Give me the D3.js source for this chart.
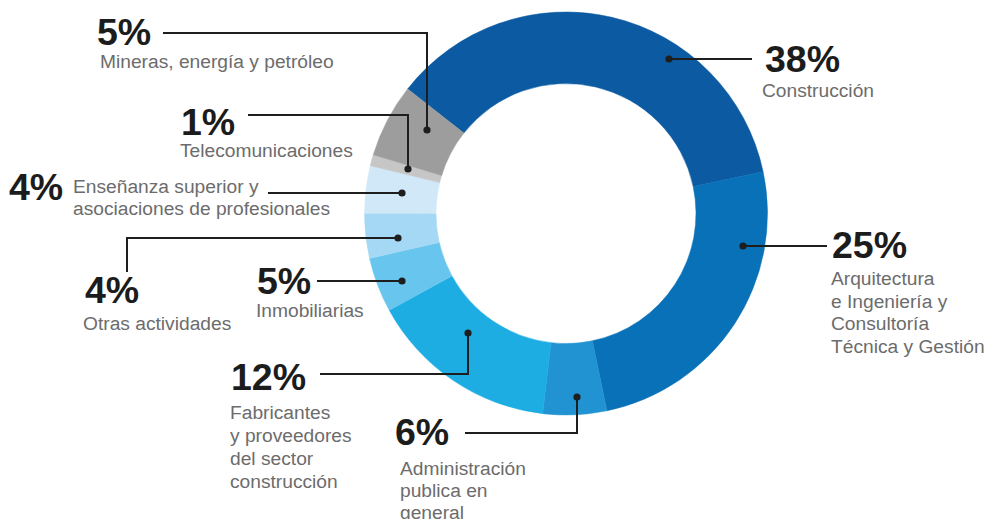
<!DOCTYPE html>
<html><head><meta charset="utf-8">
<script src="https://cdn.jsdelivr.net/npm/d3@7"></script>
<style>body{margin:0;background:#fff}svg{display:block}</style>
</head><body>
<svg id="c" width="989" height="519"></svg>
<script>
// Data (arc shares; printed labels as shown)
const categories = ["Construcción","Arquitectura e Ingeniería y Consultoría Técnica y Gestión","Administración publica en general","Fabricantes y proveedores del sector construcción","Inmobiliarias","Otras actividades","Enseñanza superior y asociaciones de profesionales","Telecomunicaciones","Mineras, energía y petróleo"];
const values = [36.1, 25.1, 5.1, 15.2, 4.4, 3.6, 3.8, 0.9, 5.9];
const pctLabels = ["38%","25%","6%","12%","5%","4%","4%","1%","5%"];
const nameLines = [
  ["Construcción"],
  ["Arquitectura","e Ingeniería y","Consultoría","Técnica y Gestión"],
  ["Administración","publica en","general"],
  ["Fabricantes","y proveedores","del sector","construcción"],
  ["Inmobiliarias"],
  ["Otras actividades"],
  ["Enseñanza superior y","asociaciones de profesionales"],
  ["Telecomunicaciones"],
  ["Mineras, energía y petróleo"]
];
const colors = ["#0b5aa2","#0971b8","#2193d3","#1eade2","#68c6ee","#a5d8f4","#d0e8f8","#c6c6c6","#9d9d9d"];

// Layout of annotations (pixel positions)
const layout = [
  {dot:[669,59], path:[[669,59],[752,59]], pct:[765,72], name:[762,97]},
  {dot:[743,246], path:[[743,246],[827,246]], pct:[832,258], name:[831,285]},
  {dot:[577,397], path:[[577,397],[577,433],[465,433]], pct:[395,445], name:[400,475], lh:22},
  {dot:[468,333], path:[[468,333],[468,374],[320,374]], pct:[231,390], name:[230,419], lh:23},
  {dot:[402,281], path:[[402,281],[317,281]], pct:[257,294], name:[256,317]},
  {dot:[398,238], path:[[398,238],[127,238],[127,272]], pct:[85,303], name:[83,330]},
  {dot:[402,193], path:[[402,193],[268,193]], pct:[9,200], name:[73,193], lh:22},
  {dot:[408,169], path:[[408,169],[408,115],[248,115]], pct:[181,135], name:[180,157]},
  {dot:[427,130], path:[[427,130],[427,33],[163,33]], pct:[97,45], name:[100,68]}
];

const cx = 566, cy = 213.5, rOuter = 201.5, rInner = 130;
const startDeg = -51.8;

const svg = d3.select("#c");
const pie = d3.pie().sort(null).value(d => d)
  .startAngle(startDeg * Math.PI / 180)
  .endAngle((startDeg + 360) * Math.PI / 180);
const arc = d3.arc().innerRadius(rInner).outerRadius(rOuter);
const color = d3.scaleOrdinal().domain(d3.range(values.length)).range(colors);

svg.append("g").attr("transform", `translate(${cx},${cy})`)
  .selectAll("path").data(pie(values)).join("path")
  .attr("d", arc).attr("fill", (d, i) => color(i))
  .attr("stroke", (d, i) => color(i)).attr("stroke-width", 0.5);

const ann = svg.append("g");
layout.forEach((L, i) => {
  ann.append("path").attr("d", d3.line()(L.path))
    .attr("fill", "none").attr("stroke", "#1e1e1e").attr("stroke-width", 2);
  ann.append("circle").attr("cx", L.dot[0]).attr("cy", L.dot[1]).attr("r", 3.6).attr("fill", "#1e1e1e");
  ann.append("text").attr("x", L.pct[0]).attr("y", L.pct[1])
    .attr("font-family", "Liberation Sans, Arial, sans-serif").attr("font-weight", "bold")
    .attr("font-size", 37.5).attr("fill", "#1c1c1c").text(pctLabels[i]);
  const t = ann.append("text").attr("x", L.name[0]).attr("y", L.name[1])
    .attr("font-family", "Liberation Sans, Arial, sans-serif")
    .attr("font-size", 19.2).attr("fill", "#6c6c6c");
  nameLines[i].forEach((ln, j) => {
    t.append("tspan").attr("x", L.name[0]).attr("dy", j === 0 ? 0 : (L.lh || 22.7)).text(ln);
  });
});
</script>
</body></html>
